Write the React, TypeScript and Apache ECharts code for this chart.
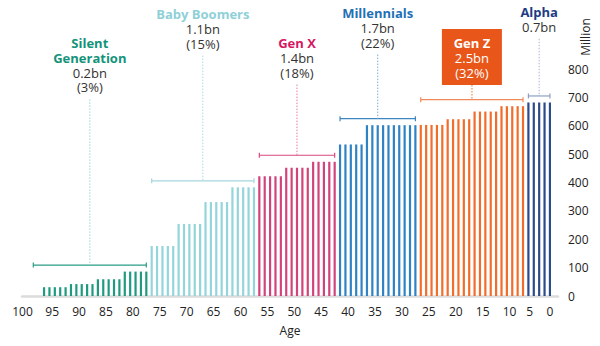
import React, { useEffect, useRef } from "react";
import * as echarts from "echarts";

// ---- Data ----
const ageTickLabels = [100, 95, 90, 85, 80, 75, 70, 65, 60, 55, 50, 45, 40, 35, 30, 25, 20, 15, 10, 5, 0];
const yTickMax = 800;
const ageGroupStarts = [90, 85, 80, 75, 70, 65, 60, 55, 50, 45, 40, 35, 30, 25, 20, 15, 10, 5, 0];
const ageGroupPopulation = [31, 42, 59, 86, 176, 254, 331, 383, 422, 452, 473, 534, 602, 602, 603, 623, 650, 669, 682];
const generationNames = ["Silent\nGeneration", "Baby Boomers", "Gen X", "Millennials", "Gen Z", "Alpha"];
const generationTotals = ["0.2bn", "1.1bn", "1.4bn", "1.7bn", "2.5bn", "0.7bn"];
const generationShares = ["(3%)", "(15%)", "(18%)", "(22%)", "(32%)", ""];
const generationOldestAge = [96, 74, 54, 39, 24, 4];
const generationYoungestAge = [75, 55, 40, 25, 5, 0];

// ---- Styles / layout ----
const FONT = '"Open Sans", "Noto Sans", sans-serif';
const barColors = ["#1f9a7e", "#94d4db", "#d2437b", "#2f83c4", "#f26d2a", "#2d4a8a"];
const nameColors = ["#14937a", "#8fd0d8", "#d6175f", "#1f71b6", "#ffffff", "#1d3c84"];
const bracketColors = ["#2a9d85", "#a4d7de", "#d6497e", "#3f86c0", "#f08a5a", "#8f9fc2"];
const guideColors = ["#9ad6d6", "#a6dbe1", "#e07aa2", "#7aaed6", "#f7b58f", "#a9b5d0"];
const labelTopY = [43, 14, 43, 13, 43, 12];
const LINE_H = 14.8;
const LABEL_FS = 13;
const HIGHLIGHT = 4; // Gen Z boxed
const BOX_FILL = "#e8561a";

const labelPos = (l: number) => (l === 0 ? 0 : l === 5 ? 3.75 : l === 100 ? 98 : l - 2.5);

function genOfAge(age: number) {
  for (let g = 0; g < generationOldestAge.length; g++) {
    if (age <= generationOldestAge[g] && age >= generationYoungestAge[g]) return g;
  }
  return 0;
}

export default function App() {
  const ref = useRef<HTMLDivElement>(null);

  useEffect(() => {
    document.body.style.margin = "0";
    if (!ref.current) return;
    const chart = echarts.init(ref.current, undefined, { renderer: "svg" });

    const barData: any[] = [];
    const genMax = generationNames.map(() => 0);
    ageGroupStarts.forEach((start, k) => {
      const v = ageGroupPopulation[k];
      for (let a = start + 4; a >= start; a--) {
        const g = genOfAge(a);
        genMax[g] = Math.max(genMax[g], v);
        barData.push({ value: [a, v], itemStyle: { color: barColors[g] } });
      }
    });

    const annData = generationNames.map((_, g) => [
      generationOldestAge[g],
      generationYoungestAge[g],
      genMax[g] + 23,
    ]);

    const tickPositions = ageTickLabels.map(labelPos);

    const renderAnn = (params: any, api: any) => {
      const g = params.dataIndex;
      const yb = api.value(2);
      const pL = api.coord([api.value(0), yb]);
      const pR = api.coord([api.value(1), yb]);
      const y = pL[1];
      const xL = pL[0];
      const xR = pR[0];
      const xm = (xL + xR) / 2;
      const children: any[] = [];
      const bc = bracketColors[g];
      children.push({ type: "line", shape: { x1: xL, y1: y, x2: xR, y2: y }, style: { stroke: bc, lineWidth: 1.2 } });
      children.push({ type: "line", shape: { x1: xL, y1: y - 2.5, x2: xL, y2: y + 2.5 }, style: { stroke: bc, lineWidth: 1.2 } });
      children.push({ type: "line", shape: { x1: xR, y1: y - 2.5, x2: xR, y2: y + 2.5 }, style: { stroke: bc, lineWidth: 1.2 } });

      const nameLines = generationNames[g].split("\n");
      const parts: string[] = nameLines.map((t) => `{n|${t}}`);
      parts.push(`{v|${generationTotals[g]}}`);
      if (generationShares[g]) parts.push(`{v|${generationShares[g]}}`);
      const nLines = parts.length;

      const top = labelTopY[g];
      let guideTop = top + (nLines - 1) * LINE_H + 12;
      if (g === HIGHLIGHT) {
        children.push({
          type: "rect",
          shape: { x: xm - 30, y: top - 14, width: 60, height: 56 },
          style: { fill: BOX_FILL },
        });
        guideTop = top + 42;
      }
      children.push({
        type: "line",
        shape: { x1: xm, y1: guideTop, x2: xm, y2: y },
        style: { stroke: guideColors[g], lineWidth: g === HIGHLIGHT ? 2 : 1, lineDash: [1.5, 1.5] },
      });
      children.push({
        type: "text",
        x: xm,
        y: top - LINE_H / 2,
        style: {
          text: parts.join("\n"),
          align: "center",
          verticalAlign: "top",
          textAlign: "center",
          textVerticalAlign: "top",
          rich: {
            n: {
              fontFamily: FONT,
              fontSize: LABEL_FS,
              fontWeight: "bold",
              color: nameColors[g],
              fill: nameColors[g],
              lineHeight: LINE_H,
            },
            v: {
              fontFamily: FONT,
              fontSize: LABEL_FS,
              color: g === HIGHLIGHT ? "#ffffff" : "#333333",
              fill: g === HIGHLIGHT ? "#ffffff" : "#333333",
              lineHeight: LINE_H,
            },
          },
        },
      });
      return { type: "group", children };
    };

    chart.setOption({
      animation: false,
      grid: { left: 22, right: 42, top: 69, bottom: 50 },
      xAxis: {
        type: "value",
        inverse: true,
        min: -1.5,
        max: 98.1,
        axisLine: { show: true, onZero: false, lineStyle: { color: "#dcdcdc", width: 2.5 } },
        axisTick: { show: false },
        splitLine: { show: false },
        axisLabel: {
          customValues: tickPositions,
          formatter: (v: number) => {
            const k = tickPositions.findIndex((p) => Math.abs(p - v) < 1e-6);
            return k >= 0 ? String(ageTickLabels[k]) : "";
          },
          fontFamily: FONT,
          fontSize: 12,
          color: "#222",
          margin: 9,
        },
        name: "Age",
        nameLocation: "middle",
        nameGap: 28,
        nameTextStyle: { fontFamily: FONT, fontSize: 12, color: "#222" },
      },
      yAxis: {
        type: "value",
        position: "right",
        min: 0,
        max: yTickMax,
        interval: 100,
        axisLine: { show: false },
        axisTick: { show: false },
        splitLine: { show: false },
        axisLabel: { fontFamily: FONT, fontSize: 12, color: "#222", margin: 10 },
      },
      graphic: [
        {
          type: "text",
          x: 585,
          y: 37,
          rotation: Math.PI / 2,
          style: {
            text: "Million",
            fill: "#222",
            font: `12px ${FONT}`,
            align: "center",
            verticalAlign: "middle",
            textAlign: "center",
            textVerticalAlign: "middle",
          },
        },
      ],
      series: [
        {
          type: "bar",
          barWidth: 2.2,
          data: barData,
        },
        {
          type: "custom",
          renderItem: renderAnn,
          clip: false,
          encode: { x: [0, 1], y: 2 },
          data: annData,
          z: 5,
        },
      ],
    });

    return () => chart.dispose();
  }, []);

  return <div ref={ref} style={{ width: 600, height: 346 }} />;
}
